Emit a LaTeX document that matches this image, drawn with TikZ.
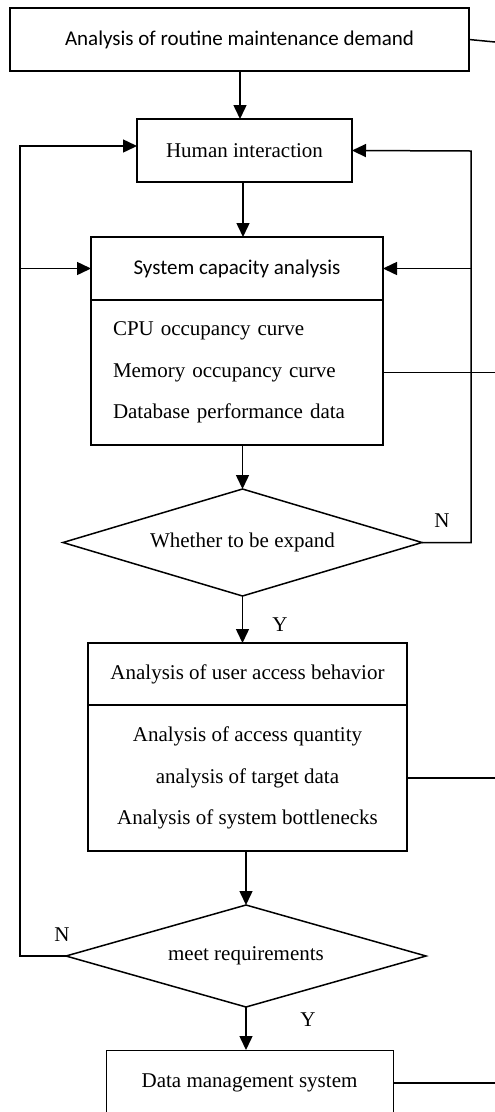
\documentclass[tikz,border=0pt]{standalone}
\usepackage{fontspec}
\setmainfont{Liberation Serif}
\newfontfamily\calibri{Carlito}
\usetikzlibrary{arrows.meta,calc,shapes.geometric}

\begin{document}
\begin{tikzpicture}[x=1pt,y=-1pt,line width=1.5pt,
    every node/.style={inner sep=0,outer sep=0,font=\fontsize{21}{41.5}\selectfont},
    box/.style={draw,rectangle,minimum height=63pt},
    dec/.style={draw,diamond,aspect=3.4},
    >={Triangle[length=14pt,width=13pt]}]
    \clip (0,0) rectangle (495,1112);
    \fill[white] (0,0) rectangle (495,1112);

    \node[box,minimum width=459pt,font=\calibri\fontsize{21}{25}\selectfont](rmd) at (239.5,39.5)
        {Analysis of routine maintenance demand};
    \node[box,minimum width=215pt](hi) at (244.5,150.5) {Human interaction};
    \node[box,minimum width=292pt,font=\calibri\fontsize{21}{25}\selectfont](sca) at (237,268.5)
        {System capacity analysis};
    \node[box,minimum width=292pt,minimum height=145pt,align=left,
        text width=248pt,inner xsep=22pt](scb) at (237,372.5)
        {CPU occupancy curve\\Memory occupancy curve\\Database performance data};
    \node[dec,minimum width=359pt,minimum height=107pt](d1) at (242.5,542.5)
        {Whether to be expand};
    \node[box,minimum width=319pt,minimum height=62pt](uaa) at (247.5,674)
        {Analysis of user access behavior};
    \node[box,minimum width=319pt,minimum height=146pt,align=center](uab) at (247.5,778)
        {Analysis of access quantity\\analysis of target data\\Analysis of system bottlenecks};
    \node[dec,minimum width=360pt,minimum height=102pt](d2) at (246,956)
        {meet requirements};
    \node[box,minimum width=287pt,minimum height=66pt,line width=1pt](dms) at (249.5,1083)
        {Data management system};

    \node(n1) at (442,521) {N};
    \node(y1) at (280,625) {Y};
    \node(n2) at (62,935) {N};
    \node(y2) at (308,1020) {Y};

    \coordinate(l1) at (20,146);
    \coordinate(r1) at (471,151);
    \coordinate(e1) at (495,0);

    \draw[->] (rmd.south -| 240,0) -- (hi.north -| 240,0);
    \draw[->] (hi.south -| 243,0) -- (sca.north -| 243,0);
    \draw[->] (d1.north |- scb.south) -- (d1.north);
    \draw[->] (d1.south) -- (d1.south |- uaa.north);
    \draw[->] (d2.north |- uab.south) -- (d2.north);
    \draw[->] (d2.south) -- (d2.south |- dms.north);

    \draw[->] (d2.west) -- (d2.west -| l1) -- (l1) -- (l1 -| hi.west);
    \draw[->] (l1 |- sca.west) -- (sca.west);
    \draw[->] (d1.east) -| (r1) -- (hi.east);
    \draw[->] (r1 |- sca.east) -- (sca.east);

    \draw (rmd.east) -- (495,42);
    \draw (scb.east) -- (scb.east -| e1);
    \draw (uab.east) -- (uab.east -| e1);
    \draw (dms.east) -- (dms.east -| e1);
\end{tikzpicture}
\end{document}
